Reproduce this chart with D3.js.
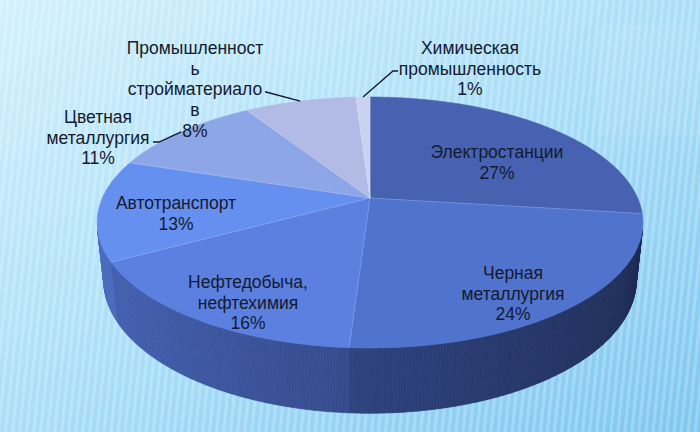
<!DOCTYPE html>
<html>
<head>
<meta charset="utf-8">
<script src="https://cdn.jsdelivr.net/npm/d3@7"></script>
<style>
  html, body { margin: 0; padding: 0; overflow: hidden; }
  text { font-family: "Liberation Sans", Arial, sans-serif; }
</style>
</head>
<body>
<div id="chart"></div>
<script>
// data
const categories = ["Электростанции", "Черная металлургия", "Нефтедобыча, нефтехимия",
  "Автотранспорт", "Цветная металлургия", "Промышленность стройматериалов", "Химическая промышленность"];
const shares = [27, 24, 16, 13, 11, 8, 1];
// the label text as it is wrapped in the picture
const labelText = [["Электростанции"], ["Черная", "металлургия"], ["Нефтедобыча,", "нефтехимия"],
  ["Автотранспорт"], ["Цветная", "металлургия"], ["Промышленност", "ь", "стройматериало", "в"],
  ["Химическая", "промышленность"]];
const topColors = ["#4662b0", "#5073cd", "#5b80e0", "#6690ef", "#8ca6e8", "#b1bbe6", "#c9d3f1"];

// layout
const width = 700, height = 432;
const labelPos = [[497, 152], [513, 273], [248, 282], [176, 203], [98, 117], [195, 48], [470, 48]];
const lineGap = 20.7;
// leader lines start at the label: [x, y, elbowX]
const leaderFrom = [null, null, null, null, [153, 142, 159], [265, 92, 266], [398, 71, 393]];

// simple perspective camera for the 3d pie
const cam = {cx: 370, cy: 198, f: 1222, D: 1, R: 0.219, H: 0.0528, tilt: Math.asin(0.451)};
const sT = Math.sin(cam.tilt), cT = Math.cos(cam.tilt);

function proj(theta, r, y) {
  let X = cam.R * r * Math.sin(theta), Z = cam.R * r * Math.cos(theta);
  let depth = cam.D - y * sT + Z * cT;
  let up = y * cT + Z * sT;
  return [cam.cx + cam.f * X / depth, cam.cy - cam.f * up / depth];
}

let svg = d3.select("#chart").append("svg")
    .attr("width", width)
    .attr("height", height);

let defs = svg.append("defs");
let bg = defs.append("linearGradient").attr("id", "bg")
    .attr("x1", 0).attr("y1", 0).attr("x2", 1).attr("y2", 1);
bg.append("stop").attr("offset", "0%").attr("stop-color", "#d3f1fc");
bg.append("stop").attr("offset", "55%").attr("stop-color", "#a6dcf7");
bg.append("stop").attr("offset", "100%").attr("stop-color", "#80c7f0");

let stripes = defs.append("pattern").attr("id", "stripes")
    .attr("patternUnits", "userSpaceOnUse")
    .attr("width", 7).attr("height", 40)
    .attr("patternTransform", "rotate(6)");
stripes.append("rect").attr("width", 3).attr("height", 40)
    .attr("fill", "#ffffff").attr("opacity", 0.22);

svg.append("rect").attr("width", width).attr("height", height).attr("fill", "url(#bg)");
svg.append("rect").attr("width", width).attr("height", height).attr("fill", "url(#stripes)");
svg.append("rect").attr("x", 597).attr("y", 25).attr("width", 103).attr("height", 110)
    .attr("fill", "#ffffff").attr("opacity", 0.07);

let pie = d3.pie().sort(null).value(d => d);
let arcs = pie(shares);

let line = d3.line();
const step = Math.PI / 360;

// side walls, only the parts that face the camera
let visLimit = -cam.R / (cam.D * cT);
let quads = [];
arcs.forEach((a, i) => {
  let n = Math.max(2, Math.ceil((a.endAngle - a.startAngle) / step));
  for (let k = 0; k < n; k++) {
    let t0 = a.startAngle + (a.endAngle - a.startAngle) * k / n;
    let t1 = a.startAngle + (a.endAngle - a.startAngle) * (k + 1) / n;
    let tm = (t0 + t1) / 2;
    if (Math.cos(tm) >= visLimit) continue;
    quads.push({i: i, t0: t0, t1: t1, tm: tm});
  }
});
quads.sort((p, q) => Math.cos(q.tm) - Math.cos(p.tm));

// darker toward the right, like the lit side of the reference
function sideColor(i, t) {
  let c = d3.rgb(topColors[i]);
  let k = 0.57 - 0.2 * Math.sin(t);
  return d3.rgb(c.r * k, c.g * k, c.b * (k + 0.04)).formatHex();
}

svg.append("g").selectAll("path").data(quads).enter()
    .append("path")
    .attr("d", d => line([proj(d.t0, 1, 0), proj(d.t1, 1, 0), proj(d.t1, 1, -cam.H), proj(d.t0, 1, -cam.H)]) + "Z")
    .attr("fill", d => sideColor(d.i, d.tm))
    .attr("stroke", d => sideColor(d.i, d.tm))
    .attr("stroke-width", 0.7);

// top face
function topPath(a) {
  let pts = [proj(0, 0, 0)];
  let n = Math.max(2, Math.ceil((a.endAngle - a.startAngle) / step));
  for (let k = 0; k <= n; k++) {
    pts.push(proj(a.startAngle + (a.endAngle - a.startAngle) * k / n, 1, 0));
  }
  return line(pts) + "Z";
}

svg.append("g").selectAll("path").data(arcs).enter()
    .append("path")
    .attr("d", topPath)
    .attr("fill", (d, i) => topColors[i])
    .attr("stroke", (d, i) => topColors[i])
    .attr("stroke-width", 0.6);

// faint edges between slices
svg.append("g").selectAll("path").data(arcs).enter()
    .append("path")
    .attr("d", d => line([proj(0, 0, 0), proj(d.startAngle, 1, 0)]))
    .attr("stroke", "#ffffff")
    .attr("stroke-opacity", 0.18)
    .attr("stroke-width", 1);

// leader lines
svg.append("g").selectAll("path").data(arcs.filter((d, i) => leaderFrom[i])).enter()
    .append("path")
    .attr("d", d => {
      let s = leaderFrom[d.index];
      let mid = (d.startAngle + d.endAngle) / 2;
      return line([[s[0], s[1]], [s[2], s[1]], proj(mid, 1, 0)]);
    })
    .attr("fill", "none")
    .attr("stroke", "#15192b")
    .attr("stroke-width", 1.3);

// labels
let labels = svg.append("g").selectAll("text").data(arcs).enter()
    .append("text")
    .attr("x", (d, i) => labelPos[i][0])
    .attr("y", (d, i) => labelPos[i][1])
    .attr("text-anchor", "middle")
    .attr("font-size", "17.5px")
    .attr("fill", "#141a30");

labels.each(function(d, i) {
  let lines = labelText[i].concat([shares[i] + "%"]);
  d3.select(this).selectAll("tspan").data(lines).enter()
      .append("tspan")
      .attr("x", labelPos[i][0])
      .attr("y", (t, j) => labelPos[i][1] + j * lineGap)
      .attr("dominant-baseline", "central")
      .text(t => t);
});
</script>
</body>
</html>
